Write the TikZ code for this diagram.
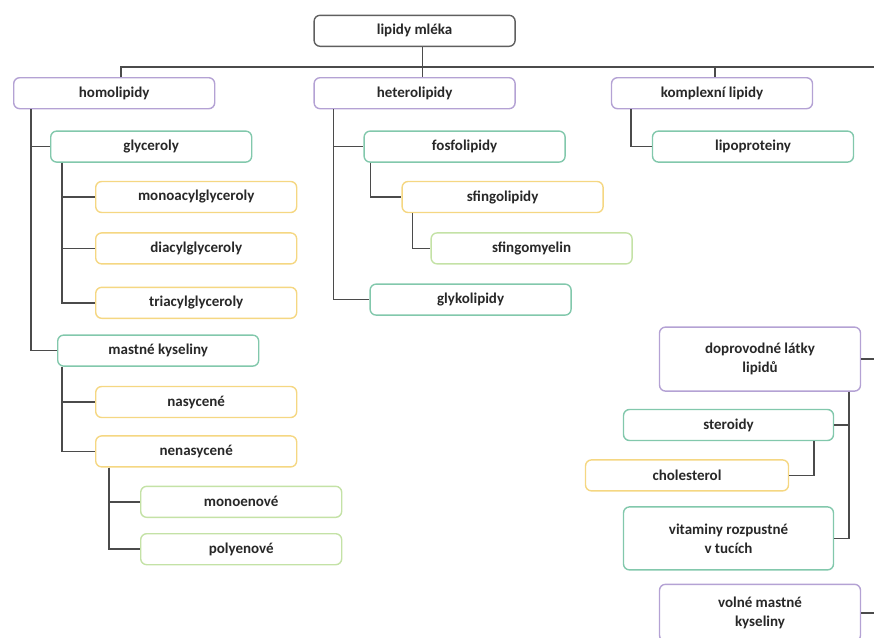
\documentclass[tikz,border=0pt]{standalone}
\usepackage{fontspec}
\setmainfont{Carlito}
\usepackage{xcolor}
\usepackage{tikz}
\usetikzlibrary{positioning}
\definecolor{rootcolor}{RGB}{95,95,95}
\definecolor{purplecolor}{RGB}{180,162,212}
\definecolor{greencolor}{RGB}{130,200,172}
\definecolor{yellowcolor}{RGB}{245,215,130}
\definecolor{limecolor}{RGB}{196,226,166}
\definecolor{linecolor}{RGB}{75,75,75}
\definecolor{labelcolor}{RGB}{40,40,40}

\begin{document}
\begin{tikzpicture}[
        x=1pt, y=-1pt,
        box/.style={rectangle, rounded corners=6pt, draw, line width=1.4pt, fill=white, minimum width=201pt, minimum height=31pt, inner sep=2pt, align=center, text=labelcolor, font=\fontsize{15pt}{19pt}\selectfont\bfseries},
        rootbox/.style={box, draw=rootcolor},
        purplebox/.style={box, draw=purplecolor},
        greenbox/.style={box, draw=greencolor},
        yellowbox/.style={box, draw=yellowcolor},
        limebox/.style={box, draw=limecolor},
        link/.style={draw=linecolor, line width=1.6pt}
    ]
        \useasboundingbox (0,0) rectangle (874,637);

        % Main groups
        \node (homolipidy) [purplebox, anchor=north west] at (13,77) {homolipidy};
        \node (heterolipidy) [purplebox, right=98pt of homolipidy] {heterolipidy};
        \node (komplexni) [purplebox, right=95pt of heterolipidy] {komplexní lipidy};
        \node (lipidy) [rootbox, above=30pt of heterolipidy] {lipidy mléka};

        % Homolipidy branch
        \node (glyceroly) [greenbox, below right=21pt and 37pt of homolipidy.south west] {glyceroly};
        \node (mono) [yellowbox, below right=18pt and 45pt of glyceroly.south west] {monoacylglyceroly};
        \node (di) [yellowbox, below=19pt of mono] {diacylglyceroly};
        \node (tri) [yellowbox, below=22pt of di] {triacylglyceroly};
        \node (mastne) [greenbox, below right=225pt and 44pt of homolipidy.south west] {mastné kyseliny};
        \node (nasycene) [yellowbox, below right=19pt and 38pt of mastne.south west] {nasycené};
        \node (nenasycene) [yellowbox, below=17pt of nasycene] {nenasycené};
        \node (monoenove) [limebox, below right=18pt and 45pt of nenasycene.south west] {monoenové};
        \node (polyenove) [limebox, below=15pt of monoenove] {polyenové};

        % Heterolipidy branch
        \node (fosfolipidy) [greenbox, below right=21pt and 50pt of heterolipidy.south west] {fosfolipidy};
        \node (sfingolipidy) [yellowbox, below right=18pt and 38pt of fosfolipidy.south west] {sfingolipidy};
        \node (sfingomyelin) [limebox, below right=19pt and 29pt of sfingolipidy.south west] {sfingomyelin};
        \node (glykolipidy) [greenbox, below right=174pt and 56pt of heterolipidy.south west] {glykolipidy};

        % Komplexni lipidy branch
        \node (lipoproteiny) [greenbox, below right=21pt and 41pt of komplexni.south west] {lipoproteiny};

        % Accompanying substances
        \node (doprovodne) [purplebox, minimum height=64pt, below right=217pt and 48pt of komplexni.south west] {doprovodné látky\\lipidů};
        \node (steroidy) [greenbox, minimum width=210pt, below left=17pt and 27pt of doprovodne.south east] {steroidy};
        \node (cholesterol) [yellowbox, minimum width=203pt, below left=18pt and 45pt of steroidy.south east] {cholesterol};
        \node (vitaminy) [greenbox, minimum width=210pt, minimum height=63pt, below left=65pt and 0pt of steroidy.south east] {vitaminy rozpustné\\v tucích};
        \node (volne) [purplebox, minimum height=57pt, below right=13pt and 36pt of vitaminy.south west] {volné mastné\\kyseliny};

        % Top connectors
        \coordinate (busend) at (874,67);
        \draw [link] ([xshift=8pt]lipidy.south) -- ([xshift=8pt]heterolipidy.north);
        \draw [link] ([xshift=7pt]homolipidy.north) |- (busend);
        \draw [link] ([xshift=3pt]komplexni.north) |- (busend);

        % Homolipidy connectors
        \draw [link] ([xshift=18pt]homolipidy.south west) |- (glyceroly.west);
        \draw [link] ([xshift=18pt]homolipidy.south west) |- (mastne.west);
        \draw [link] ([xshift=12pt]glyceroly.south west) |- (mono.west);
        \draw [link] ([xshift=12pt]glyceroly.south west) |- (di.west);
        \draw [link] ([xshift=12pt]glyceroly.south west) |- (tri.west);
        \draw [link] ([xshift=5pt]mastne.south west) |- (nasycene.west);
        \draw [link] ([xshift=5pt]mastne.south west) |- (nenasycene.west);
        \draw [link] ([xshift=14pt]nenasycene.south west) |- (monoenove.west);
        \draw [link] ([xshift=14pt]nenasycene.south west) |- (polyenove.west);

        % Heterolipidy connectors
        \draw [link] ([xshift=20pt]heterolipidy.south west) |- (fosfolipidy.west);
        \draw [link] ([xshift=20pt]heterolipidy.south west) |- (glykolipidy.west);
        \draw [link] ([xshift=7pt]fosfolipidy.south west) |- (sfingolipidy.west);
        \draw [link] ([xshift=11pt]sfingolipidy.south west) |- (sfingomyelin.west);

        % Komplexni lipidy connectors
        \draw [link] ([xshift=20pt]komplexni.south west) |- (lipoproteiny.west);

        % Accompanying substances connectors
        \draw [link] (doprovodne.east) -- (doprovodne.east -| busend);
        \draw [link] ([xshift=-12pt]doprovodne.south east) |- (steroidy.east);
        \draw [link] ([xshift=-12pt]doprovodne.south east) |- (vitaminy.east);
        \draw [link] ([xshift=-20pt]steroidy.south east) |- (cholesterol.east);
        \draw [link] (volne.east) -- (volne.east -| busend);
    \end{tikzpicture}
\end{document}
